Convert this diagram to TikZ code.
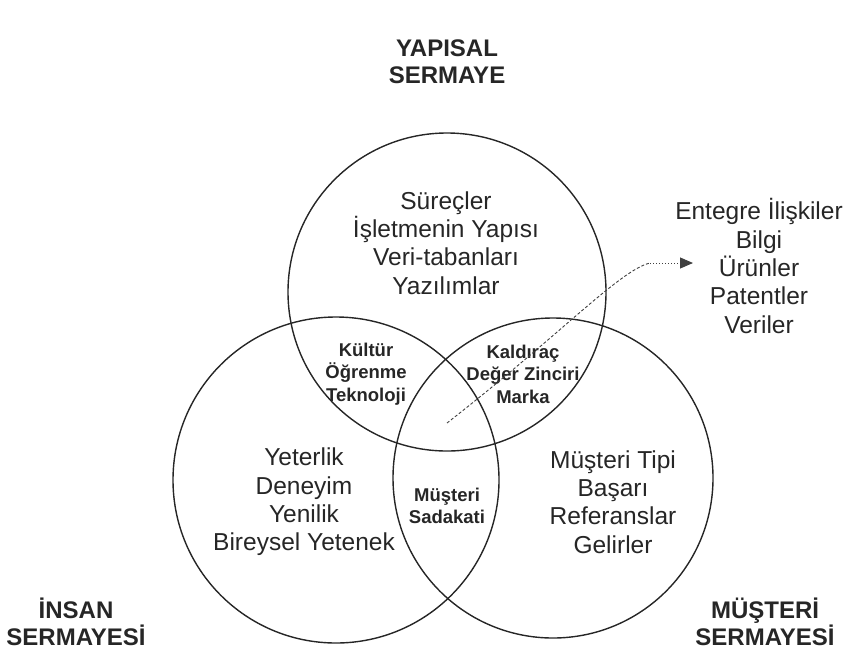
\documentclass[tikz,border=0pt]{standalone}
\usepackage{fontspec}
\setmainfont{Liberation Sans}
\usetikzlibrary{arrows.meta}
\begin{document}
\begin{tikzpicture}[x=1pt,y=-1pt,
  ring/.style={draw=black!85,line width=1.4pt},
  body/.style={align=center,text=black!85,inner sep=0pt,font=\fontsize{24.5}{28.3}\selectfont},
  core/.style={align=center,text=black!85,inner sep=0pt,font=\bfseries\fontsize{18.5}{22.5}\selectfont},
  title/.style={align=center,text=black!85,inner sep=0pt,font=\bfseries\fontsize{24}{27}\selectfont}]
\useasboundingbox (0,0) rectangle (850,651);
% the three capital circles
\draw[ring] (447,292) circle (159);
\draw[ring] (336,480) circle (163);
\draw[ring] (553,478) circle (160);
% titles
\node[title] (tYap) at (447,62) {YAPISAL\\SERMAYE};
\node[title] (tIns) at (76,622) {İNSAN\\SERMAYESİ};
\node[title] (tMus) at (765,622) {MÜŞTERİ\\SERMAYESİ};
% circle contents
\node[body] (yap) at (446,243) {Süreçler\\İşletmenin Yapısı\\Veri-tabanları\\Yazılımlar};
\node[body] (ins) at (304,502) {Yeterlik\\Deneyim\\Yenilik\\Bireysel Yetenek};
\node[body] (mus) at (613,502) {Müşteri Tipi\\Başarı\\Referanslar\\Gelirler};
% overlaps
\node[core] (kul) at (366,374) {Kültür\\Öğrenme\\Teknoloji};
\node[core] (kal) at (523,374) {Kaldıraç\\Değer Zinciri\\Marka};
\node[core] (sad) at (447,506) {Müşteri\\Sadakati};
% outside list
\node[body] (ent) at (759,266) {Entegre İlişkiler\\Bilgi\\Ürünler\\Patentler\\Veriler};
% pointer from the centre to the list
\coordinate (c0) at (447,423);
\coordinate (c1) at (650,263);
\coordinate (c2) at (693,263);
\draw[black!75,line width=0.9pt,dash pattern=on 3pt off 2pt]
  (c0) .. controls (560,335) and (620,270) .. (c1);
\draw[black!75,line width=1pt,dotted,-{Triangle[length=13pt,width=11pt]}] (c1) -- (c2);
\end{tikzpicture}
\end{document}
